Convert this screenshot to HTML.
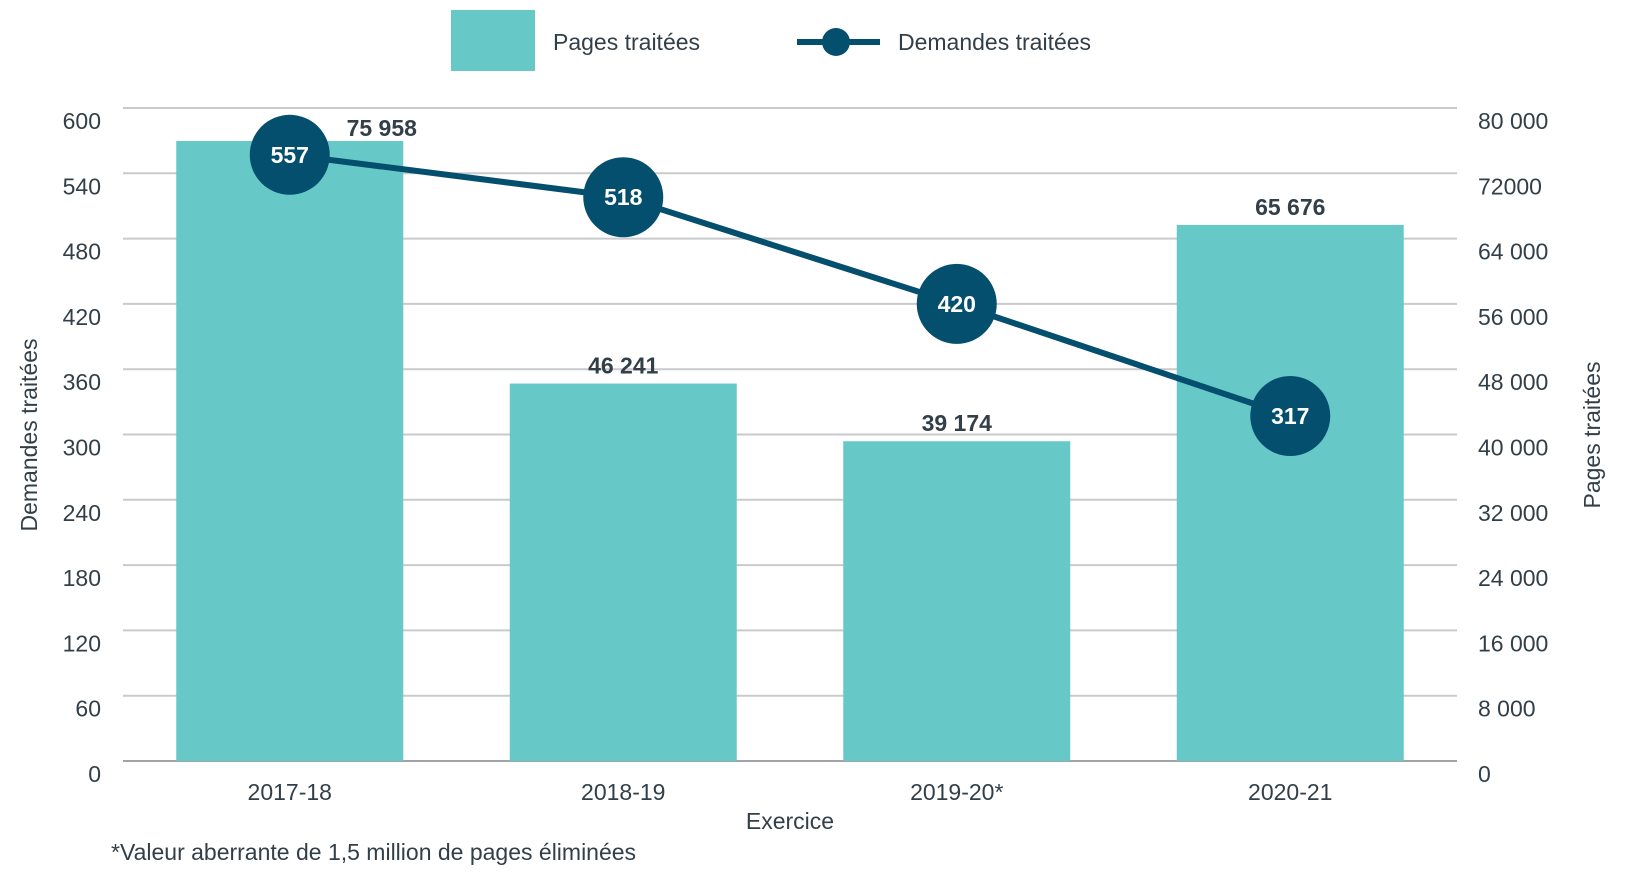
<!DOCTYPE html>
<html><head><meta charset="utf-8"><style>
body{margin:0;background:#fff;}
svg text{font-family:"Liberation Sans",sans-serif;fill:#333f48;}
</style></head><body>
<svg id="c" width="1633" height="886" xmlns="http://www.w3.org/2000/svg">
<g>
<rect x="451" y="10" width="84" height="61" fill="#67c9c7"/>
<text x="553" y="50" font-size="23">Pages traitées</text>
<line x1="797" y1="42" x2="880" y2="42" stroke="#044f6e" stroke-width="6"/>
<circle cx="836" cy="42" r="14" fill="#044f6e"/>
<text x="898" y="50" font-size="23">Demandes traitées</text>
</g>
<g id="grid"></g><g id="bars"></g><g id="line"></g><g id="axes"></g>
<text x="37" y="435" font-size="23" text-anchor="middle" transform="rotate(-90 37 435)">Demandes traitées</text>
<text x="1600" y="435" font-size="23" text-anchor="middle" transform="rotate(-90 1600 435)">Pages traitées</text>
<text x="790" y="829" font-size="23" text-anchor="middle">Exercice</text>
<text x="111" y="860" font-size="23">*Valeur aberrante de 1,5 million de pages éliminées</text>
</svg>
<script>
const categories=["2017-18","2018-19","2019-20*","2020-21"];
const pages=[75958,46241,39174,65676];
const pageLabels=["75 958","46 241","39 174","65 676"];
const demandes=[557,518,420,317];
const leftTicks=[0,60,120,180,240,300,360,420,480,540,600];
const rightTickLabels=["0","8 000","16 000","24 000","32 000","40 000","48 000","56 000","64 000","72000","80  000"];
const NS="http://www.w3.org/2000/svg";
const L=123,R=1457,T=108,B=761;
const yL=v=>B-(v/600)*(B-T);
const yR=v=>B-(v/80000)*(B-T);
const bw=(R-L)/4;
const xC=i=>L+bw*(i+0.5);
function mk(tag,attrs,parent,txt){const e=document.createElementNS(NS,tag);for(const k in attrs)e.setAttribute(k,attrs[k]);if(txt!==undefined)e.textContent=txt;document.getElementById(parent).appendChild(e);return e;}
leftTicks.forEach((t,i)=>{
  const y=yL(t);
  const g=mk("line",{x1:L,x2:R,y1:y,y2:y,stroke:i===0?"#a0a4a8":"#c8cacc","stroke-width":2},"grid");
  
  
  const a=mk("text",{x:101,y:y+21,"font-size":23,"text-anchor":"end"},"axes",String(t));
  
  
  const b=mk("text",{x:1478,y:y+21,"font-size":23,"xml:space":"preserve"},"axes",rightTickLabels[i]);
  
  
});
pages.forEach((v,i)=>{
  const w=227,x=xC(i)-w/2,y=yR(v);
  const r=mk("rect",{x:x,y:y,width:w,height:B-y,fill:"#67c9c7"},"bars");
  
  
  const lx=i===0?xC(i)+92:xC(i);
  const ly=i===0?y-5:y-10;
  const t=mk("text",{x:lx,y:ly,"font-size":23,"font-weight":"bold","text-anchor":"middle"},"bars",pageLabels[i]);
  
  
  const c=mk("text",{x:xC(i),y:800,"font-size":23,"text-anchor":"middle"},"axes",categories[i]);
  
  
});
const pts=demandes.map((v,i)=>[xC(i),yL(v)]);
const pl=mk("polyline",{points:pts.map(p=>p.join(",")).join(" "),fill:"none",stroke:"#044f6e","stroke-width":6},"line");


pts.forEach((p,i)=>{
  const c=mk("circle",{cx:p[0],cy:p[1],r:40,fill:"#044f6e"},"line");
  
  
  const t=mk("text",{x:p[0],y:p[1]+8,"font-size":23,"font-weight":"bold","text-anchor":"middle",style:"fill:#fff"},"line",String(demandes[i]));
  
  
});
</script>
</body></html>
